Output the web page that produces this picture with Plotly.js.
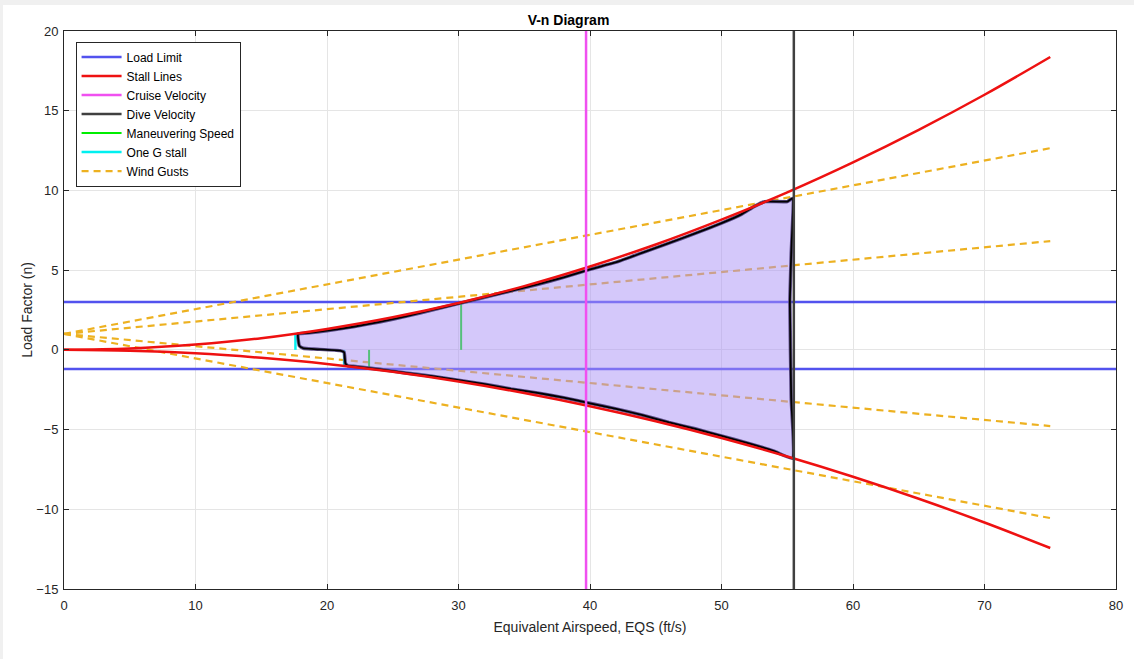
<!DOCTYPE html>
<html>
<head>
<meta charset="utf-8">
<script src="https://cdn.plot.ly/plotly-3.0.1.min.js"></script>
<style>
html,body{margin:0;padding:0;background:#f0f0f0;width:1134px;height:659px;overflow:hidden;}
#chart{position:absolute;left:3px;top:5px;width:1131px;height:654px;background:#fff;}
</style>
</head>
<body>
<div id="chart"></div>
<script>
// ---- data ----
const loadLimitV = [0, 80];
const loadLimitPos = [3, 3];
const loadLimitNeg = [-1.2, -1.2];

const stallV = [0,5,10,15,20,25,30,35,40,45,50,55,60,65,70,75];
const stallPos = [0,0.08,0.33,0.73,1.31,2.04,2.94,4.0,5.23,6.61,8.17,9.88,11.76,13.8,16.0,18.37];
const stallNeg = [0,-0.06,-0.22,-0.5,-0.88,-1.38,-1.99,-2.71,-3.54,-4.48,-5.53,-6.69,-7.96,-9.34,-10.83,-12.43];

const cruiseV = 39.7;
const diveV = 55.5;
const axisN = [-15, 20];

const manV1 = 30.2, manN1 = [0, 3.0];
const manV2 = 23.2, manN2 = [0, -1.2];

const oneGV1 = 17.6, oneGN1 = [0, 1.0];
const oneGV2 = 21.3, oneGN2 = [0, -1.0];

const gustV = [0, 75];
const gust1 = [1, 12.65];
const gust2 = [1, 6.82];
const gust3 = [1, -4.78];
const gust4 = [1, -10.55];

const envV = [17.8,18.5,20,22,24,26,28,30,32,34,36,38,40,42,44,46,48,50,51.5,52.5,53.3,55.0,55.4,
              55.3,55.2,55.3,55.4,
              54,52,50,48,46,44,42,40,38,36,34,32,30,28,26,24,22,21.6,
              21.4,21.3,21.0,19,18.2,17.9,17.8];
const envN = [1.0,1.05,1.2,1.45,1.75,2.1,2.5,2.9,3.3,3.7,4.1,4.55,5.05,5.5,6.1,6.7,7.3,7.95,8.5,9.0,9.3,9.3,9.5,
              6,3,-3,-6.8,
              -6.35,-5.85,-5.4,-4.95,-4.55,-4.1,-3.7,-3.35,-3.0,-2.7,-2.45,-2.15,-1.9,-1.65,-1.45,-1.22,-1.03,-1.0,
              -0.85,-0.15,-0.05,0.05,0.1,0.25,1.0];

// ---- traces ----
const gustStyle = {color:'#EDB120', width:2.2, dash:'7px,5px'};
const traces = [
  {x:loadLimitV, y:loadLimitPos, mode:'lines', name:'Load Limit', line:{color:'#5252ee', width:2.5}, legendrank:1},
  {x:loadLimitV, y:loadLimitNeg, mode:'lines', name:'Load Limit', showlegend:false, line:{color:'#5252ee', width:2.5}},
  {x:gustV, y:gust1, mode:'lines', name:'Wind Gusts', line:gustStyle, legendrank:7},
  {x:gustV, y:gust2, mode:'lines', showlegend:false, line:gustStyle},
  {x:gustV, y:gust3, mode:'lines', showlegend:false, line:gustStyle},
  {x:gustV, y:gust4, mode:'lines', showlegend:false, line:gustStyle},
  {x:[manV1,manV1], y:manN1, mode:'lines', name:'Maneuvering Speed', line:{color:'#00ee00', width:2}, legendrank:5},
  {x:[manV2,manV2], y:manN2, mode:'lines', showlegend:false, line:{color:'#00ee00', width:2}},
  {x:[oneGV1,oneGV1], y:oneGN1, mode:'lines', name:'One G stall', line:{color:'#00f0f0', width:2.5}, legendrank:6},
  {x:[oneGV2,oneGV2], y:oneGN2, mode:'lines', showlegend:false, line:{color:'#00f0f0', width:2.5}},
  {x:envV, y:envN, mode:'lines', fill:'toself', fillcolor:'rgba(170,145,245,0.5)', showlegend:false,
   line:{color:'rgba(85,70,130,0.95)', width:3.5, shape:'spline', smoothing:0.4}},
  {x:envV, y:envN, mode:'lines', showlegend:false, line:{color:'#000000', width:1.8, shape:'spline', smoothing:0.4}},
  {x:stallV, y:stallPos, mode:'lines', name:'Stall Lines', line:{color:'#ee1111', width:2.5, shape:'spline'}, legendrank:2},
  {x:stallV, y:stallNeg, mode:'lines', showlegend:false, line:{color:'#ee1111', width:2.5, shape:'spline'}},
  {x:[cruiseV,cruiseV], y:axisN, mode:'lines', name:'Cruise Velocity', line:{color:'#f050f0', width:2.5}, legendrank:3},
  {x:[diveV,diveV], y:axisN, mode:'lines', name:'Dive Velocity', line:{color:'#404040', width:2.5}, legendrank:4}
];

const FONT = 'Liberation Sans, Arial, sans-serif';
const axisCommon = {
  showgrid:true, gridcolor:'#e5e5e5', gridwidth:1, zeroline:false,
  showline:true, linecolor:'#262626', linewidth:1, mirror:'ticks',
  ticks:'inside', ticklen:5, tickcolor:'#262626',
  tickfont:{family:FONT, size:13, color:'#262626'}
};

const layout = {
  width:1131, height:654,
  paper_bgcolor:'#ffffff', plot_bgcolor:'#ffffff',
  margin:{l:61, r:18, t:26, b:70},
  showlegend:true,
  title:{text:'<b>V-n Diagram</b>', x:0.5, xanchor:'center', y:0.985, yanchor:'top',
         font:{family:FONT, size:14, color:'#000'}},
  xaxis:Object.assign({}, axisCommon, {range:[0,80], dtick:10, tick0:0, ticklabelstandoff:4,
         title:{text:'Equivalent Airspeed, EQS (ft/s)', standoff:10,
                font:{family:FONT, size:14, color:'#262626'}}}),
  yaxis:Object.assign({}, axisCommon, {range:[-15,20], dtick:5, tick0:0, ticklabelstandoff:2,
         title:{text:'Load Factor (n)', standoff:0,
                font:{family:FONT, size:14, color:'#262626'}}}),
  legend:{x:0.011, y:0.981, xanchor:'left', yanchor:'top', bgcolor:'#ffffff',
          bordercolor:'#262626', borderwidth:1, tracegroupgap:0, itemwidth:40,
          font:{family:FONT, size:12, color:'#000'}}
};

Plotly.newPlot('chart', traces, layout, {displayModeBar:false, staticPlot:true});
</script>
</body>
</html>
